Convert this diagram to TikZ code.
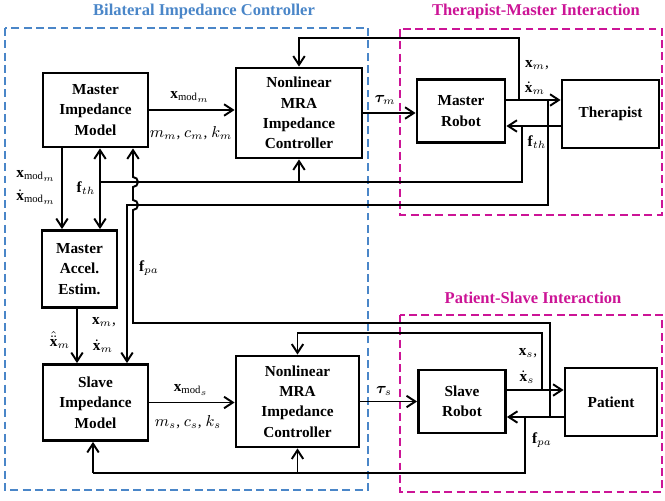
\documentclass[tikz,border=0pt]{standalone}
\usepackage{fontspec}
\setmainfont{Liberation Serif}
\usepackage{amsmath}
\usepackage{bm}
\usetikzlibrary{positioning}
\usetikzlibrary{arrows.meta}
\usetikzlibrary{calc}

\definecolor{ctrlblue}{RGB}{74,134,200}
\definecolor{intmag}{RGB}{204,20,150}

\begin{document}
\begin{tikzpicture}[
    x=0.02cm,
    y=-0.02cm,
    block/.style={
        draw,
        line width=1.6pt,
        align=center,
        inner sep=0pt,
        font=\bfseries\fontsize{8.7}{11.6}\selectfont
    },
    sig/.style={draw, line width=1.1pt, -{Straight Barb[length=5pt,width=6.5pt]}},
    wire/.style={draw, line width=1.1pt},
    lbl/.style={inner sep=0pt, font=\fontsize{8.7}{11}\selectfont},
    zone/.style={line width=1.3pt, dash pattern=on 4.5pt off 2.5pt},
    zonetitle/.style={inner sep=0pt, font=\bfseries\fontsize{9.4}{11}\selectfont}
]
\useasboundingbox (0,0) rectangle (665,500);

\draw[zone, draw=ctrlblue] (5,28) rectangle (368,490);
\draw[zone, draw=intmag] (400,29) rectangle (662,215);
\draw[zone, draw=intmag] (400,315) rectangle (662,492);
\node[zonetitle, text=ctrlblue] (tctrl) at (204,12) {Bilateral Impedance Controller};
\node[zonetitle, text=intmag] (tmaster) at (536,12) {Therapist-Master Interaction};
\node[zonetitle, text=intmag] (tslave) at (533,298) {Patient-Slave Interaction};

\node[block, minimum width=2.1cm, minimum height=1.48cm] (mim) at (95.5,110) {Master\\Impedance\\Model};
\node[block, minimum width=2.52cm, minimum height=1.8cm] (nmram) at (299,113) {Nonlinear\\MRA\\Impedance\\Controller};
\node[block, minimum width=1.76cm, minimum height=1.26cm] (mrobot) at (461,111) {Master\\Robot};
\node[block, minimum width=1.94cm, minimum height=1.36cm] (therapist) at (610.5,114) {Therapist};
\node[block, minimum width=1.5cm, minimum height=1.54cm] (mae) at (79.5,269) {Master\\Accel.\\Estim.};
\node[block, minimum width=2.1cm, minimum height=1.52cm] (sim) at (95.5,402.5) {Slave\\Impedance\\Model};
\node[block, minimum width=2.46cm, minimum height=1.82cm] (nmras) at (297.5,401.5) {Nonlinear\\MRA\\Impedance\\Controller};
\node[block, minimum width=1.74cm, minimum height=1.26cm] (srobot) at (462,401.5) {Slave\\Robot};
\node[block, minimum width=1.84cm, minimum height=1.36cm] (patient) at (611,402) {Patient};

\coordinate (cA) at (62,0);
\coordinate (cB) at (77,0);
\coordinate (cC) at (100,0);
\coordinate (cD) at (127,0);
\coordinate (xmout) at ($(mrobot.east)+(0,-11)$);
\coordinate (fthout) at ($(therapist.west)+(0,12)$);
\coordinate (xsout) at ($(srobot.east)+(0,-11.5)$);
\coordinate (fpaout) at ($(patient.west)+(0,15)$);
\coordinate (jxmup) at (519,100);
\coordinate (jxmdn) at (548,100);
\coordinate (jfth) at (522,126);
\coordinate (jxs) at (542,390);
\coordinate (jfpaup) at (550,417);
\coordinate (jfpadn) at (525,417);
\coordinate (fthbus) at (100,182);
\coordinate (xmbus) at (127,205);
\coordinate (fpabus) at (133,323);
\coordinate (fpabot) at (93,473);

\draw[sig] (mim.east) -- (mim.east -| nmram.west);
\draw[sig] (nmram.east) -- (nmram.east -| mrobot.west);
\draw[sig] (xmout) -- (xmout -| therapist.west);
\draw[sig] (fthout) -- (fthout -| mrobot.east);
\draw[sig] (jxmup) -- ++(0,-62) -| (nmram.north);
\draw[sig] (jxmdn) |- (xmbus) -- (sim.north -| xmbus);
\draw[wire] (jfth) |- (fthbus);
\draw[sig] (fthbus -| nmram.south) -- (nmram.south);
\draw[sig] (fthbus) -- (mim.south -| fthbus);
\draw[sig] (fthbus) -- (mae.north -| fthbus);
\draw[sig] (mim.south -| cA) -- (mae.north -| cA);
\draw[sig] (mae.south -| cB) -- (sim.north -| cB);

\draw[sig] (sim.east) -- (sim.east -| nmras.west);
\draw[sig] (nmras.east) -- (nmras.east -| srobot.west);
\draw[sig] (xsout) -- (xsout -| patient.west);
\draw[sig] (fpaout) -- (fpaout -| srobot.east);
\draw[sig] (jxs) -- ++(0,-57) -| (nmras.north);
\draw[sig] (jfpaup) |- (fpabus)
    -- ($(fpabus |- xmbus)+(0,5)$) arc[start angle=-90, end angle=90, radius=0.1cm]
    -- ($(fpabus |- fthbus)+(0,5)$) arc[start angle=-90, end angle=90, radius=0.1cm]
    -- (mim.south -| fpabus);
\draw[wire] (jfpadn) |- (fpabot);
\draw[sig] (fpabot) -- (sim.south -| fpabot);
\draw[sig] (fpabot -| nmras.south) -- (nmras.south);

\node[lbl] (lxmodm) at (190,97) {$\mathbf{x}_{\mathrm{mod}_m}$};
\node[lbl] (lmm) at (191,133) {$m_m$, $c_m$, $k_m$};
\node[lbl] (ltaum) at (385,100) {$\bm{\tau}_m$};
\node[lbl] (lxm1) at (537,65) {$\mathbf{x}_m$,};
\node[lbl] (lxm2) at (535,88) {$\dot{\mathbf{x}}_m$};
\node[lbl] (lfth1) at (537,142) {$\mathbf{f}_{th}$};
\node[lbl] (lxmodm2) at (36,176) {$\mathbf{x}_{\mathrm{mod}_m}$};
\node[lbl] (ldxmodm) at (36,197) {$\dot{\mathbf{x}}_{\mathrm{mod}_m}$};
\node[lbl] (lfth2) at (86,188) {$\mathbf{f}_{th}$};
\node[lbl] (lfpa2) at (149,268) {$\mathbf{f}_{pa}$};
\node[lbl] (lxhat) at (60,340) {$\hat{\ddot{\mathbf{x}}}_m$};
\node[lbl] (lxm3) at (104,322) {$\mathbf{x}_m$,};
\node[lbl] (lxm4) at (103,346) {$\dot{\mathbf{x}}_m$};
\node[lbl] (lxmods) at (191,390) {$\mathbf{x}_{\mathrm{mod}_s}$};
\node[lbl] (lms) at (188,422) {$m_s$, $c_s$, $k_s$};
\node[lbl] (ltaus) at (384,391) {$\bm{\tau}_s$};
\node[lbl] (lxs1) at (528,353) {$\mathbf{x}_s$,};
\node[lbl] (lxs2) at (527,377) {$\dot{\mathbf{x}}_s$};
\node[lbl] (lfpa1) at (542,440) {$\mathbf{f}_{pa}$};

\end{tikzpicture}
\end{document}
